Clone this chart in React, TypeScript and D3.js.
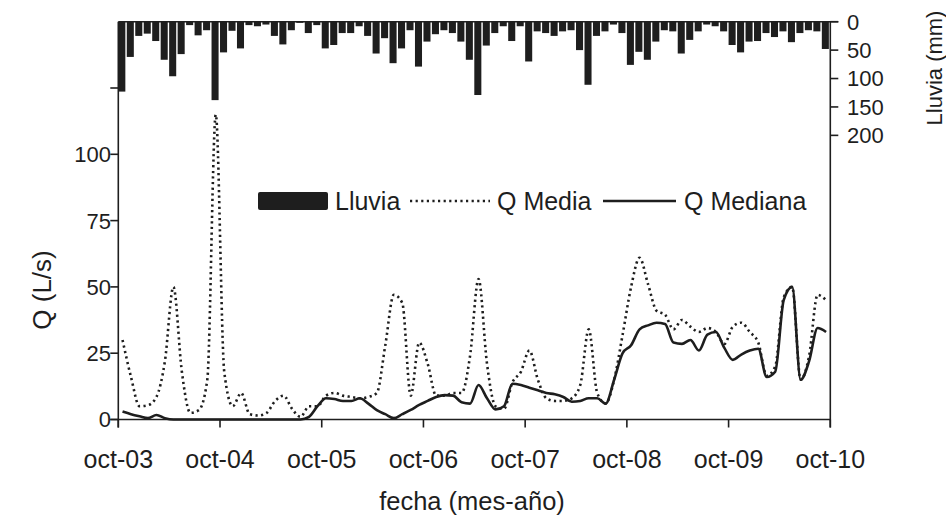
import React, { useEffect, useRef } from 'react';
import * as d3 from 'd3';

// monthly values, oct-03 .. sep-10 (84 months)
const rain = [
  123, 62, 25, 21, 34, 67, 96, 57, 6, 24, 15, 138, 54, 16, 47, 6, 8, 5, 25, 40,
  15, 2, 20, 6, 47, 41, 20, 20, 8, 25, 56, 29, 73, 47, 15, 79, 35, 22, 15, 20,
  35, 67, 129, 42, 20, 8, 34, 8, 70, 17, 20, 25, 17, 15, 50, 111, 25, 17, 5, 20,
  76, 53, 67, 35, 15, 17, 56, 32, 17, 5, 8, 17, 41, 54, 35, 34, 20, 27, 17, 36,
  20, 15, 17, 48,
];

const qMedia = [
  30, 16, 5, 5.4, 8.5, 22, 50, 18, 2.5, 3.5, 15, 115, 18, 5, 10, 2, 1.5, 2.5, 7, 9,
  4, 1, 5, 5, 9, 10, 9, 8.5, 8, 8.5, 10, 28, 47, 44, 9, 29, 21, 9, 9, 10,
  10, 24, 53, 21, 5, 4, 14, 18, 26, 15, 8, 7, 7, 8, 13, 34, 10, 6, 15, 32,
  50, 61, 51, 41, 39.5, 34, 37.5, 35, 33, 34.5, 33, 28.5, 35, 36.5, 33, 29, 16.5, 20, 46, 50,
  15, 24, 47, 45,
];

const qMediana = [
  3, 2, 1.2, 0.5, 1.7, 0.5, 0, 0, 0, 0, 0, 0, 0, 0, 0, 0, 0, 0, 0, 0,
  0, 0, 1, 5, 8, 7.7, 7, 7, 8, 6, 3.5, 2, 0.5, 2, 3.6, 5.5, 7, 8.5, 9.2, 9,
  6.5, 6, 13, 8, 3.8, 5, 13.5, 13, 12, 11, 10, 9.5, 8.5, 6.7, 7, 8, 8, 6, 15, 25,
  28, 34, 35.5, 36.5, 36, 29, 28.5, 30, 26, 32, 33, 27, 22.5, 24.5, 26, 26.7, 16, 18, 45, 50,
  15, 22, 34.5, 33,
];

const yearLabels = ['oct-03', 'oct-04', 'oct-05', 'oct-06', 'oct-07', 'oct-08', 'oct-09', 'oct-10'];
const qTicks = [0, 25, 50, 75, 100, 125];
const qTickLabels = [0, 25, 50, 75, 100];
const rainTicks = [0, 50, 100, 150, 200];

function App() {
  const svgRef = useRef<SVGSVGElement>(null);

  useEffect(() => {
    if (!svgRef.current) return;

    const width = 946;
    const height = 518;
    const left = 118.3, right = 830.3, top = 21.7, bottom = 419.5;
    const ink = '#1e1e1e';
    const font = '"Liberation Sans", Arial, sans-serif';

    d3.select(svgRef.current).selectAll('*').remove();

    const svg = d3.select(svgRef.current)
      .attr('width', width)
      .attr('height', height)
      .attr('viewBox', `0 0 ${width} ${height}`)
      .style('font-family', font);

    svg.append('rect').attr('width', width).attr('height', height).attr('fill', '#fff');

    const months = d3.range(rain.length);
    const x = d3.scaleBand<number>().domain(months).range([left, right]).paddingInner(0.17).paddingOuter(0);
    const step = (right - left) / rain.length;
    const xc = (i: number) => left + step * (i + 0.5);
    const xYear = d3.scaleLinear().domain([0, yearLabels.length - 1]).range([left, right]);

    const yQ = d3.scaleLinear().domain([0, 150]).range([bottom, top]);
    const yR = d3.scaleLinear().domain([0, 700]).range([top, bottom]);

    // rain bars hanging from top
    svg.append('g')
      .selectAll('rect')
      .data(rain)
      .join('rect')
      .attr('x', (_, i) => left + step * i)
      .attr('y', yR(0))
      .attr('width', x.bandwidth())
      .attr('height', d => yR(d) - yR(0))
      .attr('fill', ink);

    const line = d3.line<number>()
      .x((_, i) => xc(i))
      .y(d => yQ(d))
      .curve(d3.curveMonotoneX);

    svg.append('path')
      .attr('d', line(qMedia))
      .attr('fill', 'none')
      .attr('stroke', ink)
      .attr('stroke-width', 2.6)
      .attr('stroke-dasharray', '2.2,3.4');

    svg.append('path')
      .attr('d', line(qMediana))
      .attr('fill', 'none')
      .attr('stroke', ink)
      .attr('stroke-width', 2.6);

    // frame
    const frame = svg.append('g').attr('stroke', ink).attr('stroke-width', 1.6);
    frame.append('line').attr('x1', left).attr('x2', left).attr('y1', top).attr('y2', bottom + 8);
    frame.append('line').attr('x1', right).attr('x2', right).attr('y1', top).attr('y2', bottom + 8);
    frame.append('line').attr('x1', left - 8).attr('x2', right).attr('y1', bottom).attr('y2', bottom);
    frame.append('line').attr('x1', left).attr('x2', right + 8).attr('y1', top).attr('y2', top);

    // x ticks
    yearLabels.forEach((lab, i) => {
      frame.append('line')
        .attr('x1', xYear(i)).attr('x2', xYear(i))
        .attr('y1', bottom).attr('y2', bottom + 8);
      svg.append('text')
        .attr('x', xYear(i))
        .attr('y', 468)
        .attr('text-anchor', 'middle')
        .attr('font-size', 25)
        .attr('fill', ink)
        .text(lab);
    });

    // left ticks
    qTicks.forEach(t => {
      frame.append('line')
        .attr('x1', left - 8).attr('x2', left)
        .attr('y1', yQ(t)).attr('y2', yQ(t));
    });
    qTickLabels.forEach(t => {
      svg.append('text')
        .attr('x', 111)
        .attr('y', yQ(t))
        .attr('dy', '0.36em')
        .attr('text-anchor', 'end')
        .attr('font-size', 22)
        .attr('fill', ink)
        .text(t);
    });

    // right ticks
    rainTicks.forEach(t => {
      frame.append('line')
        .attr('x1', right).attr('x2', right + 8)
        .attr('y1', yR(t)).attr('y2', yR(t));
      svg.append('text')
        .attr('x', 847)
        .attr('y', yR(t))
        .attr('dy', '0.36em')
        .attr('font-size', 22)
        .attr('fill', ink)
        .text(t);
    });

    // axis titles
    svg.append('text')
      .attr('transform', 'translate(51,290) rotate(-90)')
      .attr('text-anchor', 'middle')
      .attr('font-size', 26)
      .attr('fill', ink)
      .text('Q (L/s)');

    svg.append('text')
      .attr('transform', 'translate(942,68) rotate(-90)')
      .attr('text-anchor', 'middle')
      .attr('font-size', 22)
      .attr('fill', ink)
      .text('Lluvia (mm)');

    svg.append('text')
      .attr('x', 472)
      .attr('y', 510)
      .attr('text-anchor', 'middle')
      .attr('font-size', 25.5)
      .attr('fill', ink)
      .text('fecha (mes-año)');

    // legend
    const lg = svg.append('g');
    const ly = 201;
    lg.append('rect').attr('x', 258).attr('y', ly - 9).attr('width', 70).attr('height', 18).attr('rx', 2).attr('fill', ink);
    lg.append('text').attr('x', 335).attr('y', ly).attr('dy', '0.36em').attr('font-size', 25).attr('fill', ink).text('Lluvia');
    lg.append('line').attr('x1', 410).attr('x2', 490).attr('y1', ly).attr('y2', ly)
      .attr('stroke', ink).attr('stroke-width', 2.6).attr('stroke-dasharray', '2.2,3.4');
    lg.append('text').attr('x', 497).attr('y', ly).attr('dy', '0.36em').attr('font-size', 25).attr('fill', ink).text('Q Media');
    lg.append('line').attr('x1', 603).attr('x2', 676).attr('y1', ly).attr('y2', ly)
      .attr('stroke', ink).attr('stroke-width', 2.6);
    lg.append('text').attr('x', 684).attr('y', ly).attr('dy', '0.36em').attr('font-size', 25).attr('fill', ink).text('Q Mediana');
  }, []);

  return (
    <div style={{ position: 'absolute', left: 0, top: 0 }}>
      <svg ref={svgRef} style={{ display: 'block' }}></svg>
    </div>
  );
}

export default App;
